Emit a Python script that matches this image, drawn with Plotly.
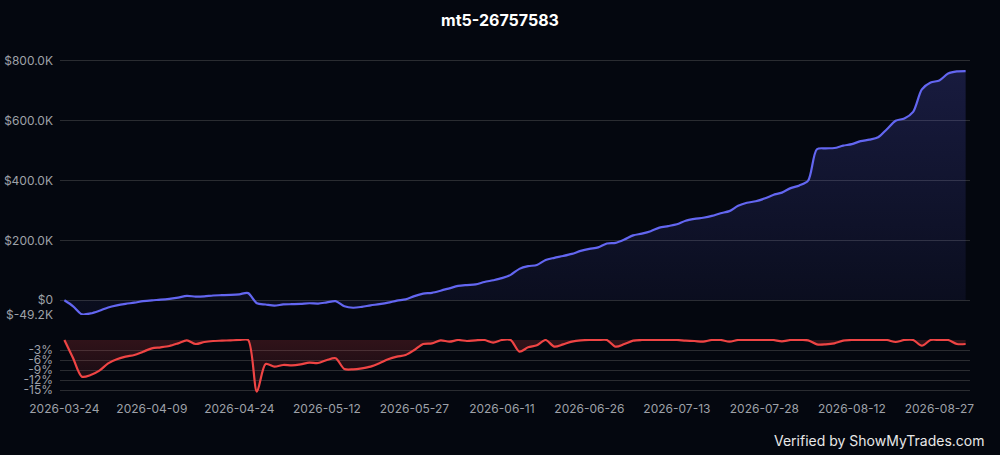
import plotly.graph_objects as go
from plotly.subplots import make_subplots

title_text = "mt5-26757583"
tick_labels = ["2026-03-24", "2026-04-09", "2026-04-24", "2026-05-12", "2026-05-27",
               "2026-06-11", "2026-06-26", "2026-07-13", "2026-07-28", "2026-08-12",
               "2026-08-27"]

# equity curve in thousands of dollars
equity_k = [0, -20, -47, -44, -35, -24, -17, -12, -8, -3,
            0, 2, 5, 9, 15, 12, 13, 16, 17, 18,
            20, 24, -10, -14, -18, -14, -13, -12, -10, -11,
            -7, -3, -20, -25, -22, -17, -13, -8, -1, 3,
            14, 22, 25, 32, 40, 48, 51, 53, 61, 67,
            74, 85, 105, 114, 118, 135, 142, 148, 155, 165,
            172, 177, 190, 192, 203, 217, 223, 231, 243, 248,
            254, 266, 272, 276, 282, 291, 298, 316, 326, 331,
            340, 352, 360, 375, 384, 400, 505, 508, 509, 517,
            522, 532, 537, 545, 572, 600, 608, 630, 705, 728,
            735, 758, 765, 766]

# drawdown in percent
drawdown_pct = [0, -5.5, -11, -10.5, -9.2, -7, -5.8, -5, -4.5, -3.5,
                -2.5, -2.2, -1.8, -1, -0.1, -1.2, -0.6, -0.3, -0.2, -0.1,
                0, 0, -15.5, -7.2, -8, -7.5, -7.6, -7.3, -6.8, -6.9,
                -6, -5.5, -8.7, -8.8, -8.5, -8, -7, -5.8, -5, -4.5,
                -3, -1.2, -1.0, -0.1, -0.5, 0, -0.3, -0.1, 0, -0.8,
                0, 0, -3.5, -2.2, -1.6, 0, -2, -1.3, -0.5, -0.1,
                0, 0, 0, -2, -1.2, -0.2, 0, 0, 0, 0,
                0, -0.2, -0.3, -0.5, 0, 0, -0.5, 0, 0, 0,
                0, 0, -0.4, 0, 0, -0.1, -1.3, -1.3, -1.0, -0.2,
                0, 0, 0, 0, 0, -0.6, 0, 0, -1.7, 0,
                0, 0, -1.2, -1.2]

eq_tickvals = [800, 600, 400, 200, 0, -49.2]
eq_ticktext = ["$800.0K", "$600.0K", "$400.0K", "$200.0K", "$0", "$-49.2K"]
dd_tickvals = [0, -3, -6, -9, -12, -15, -18]
dd_ticktext = ["", "-3%", "-6%", "-9%", "-12%", "-15%", ""]

BG = "#04070f"
BLUE = "#6366f1"
RED = "#ef4444"
GRID = "#2a2c31"
TICK = "#9ea1a8"
FONT = "Inter, Noto Sans, sans-serif"

x = list(range(len(equity_k)))
tickvals = [i * 10 for i in range(len(tick_labels))]

fig = make_subplots(rows=2, cols=1, shared_xaxes=True, vertical_spacing=0.0)

fig.add_trace(go.Scatter(
    x=x, y=equity_k, mode="lines",
    line=dict(color=BLUE, width=2.2, shape="spline", smoothing=0.8),
    fill="tozeroy",
    fillgradient=dict(type="vertical",
                      colorscale=[[0, "rgba(99,102,241,0.06)"], [1, "rgba(99,102,241,0.21)"]]),
    hoverinfo="skip", showlegend=False), row=1, col=1)

fig.add_trace(go.Scatter(
    x=x, y=drawdown_pct, mode="lines",
    line=dict(color=RED, width=2.2, shape="spline", smoothing=0.8),
    fill="tozeroy",
    fillgradient=dict(type="vertical",
                      colorscale=[[0, "rgba(239,68,68,0.06)"], [1, "rgba(239,68,68,0.19)"]]),
    hoverinfo="skip", showlegend=False), row=2, col=1)

H = 345.0
fig.update_layout(
    width=1000, height=455,
    paper_bgcolor=BG, plot_bgcolor=BG,
    margin=dict(l=60, r=30, t=55, b=55, autoexpand=False),
    font=dict(family=FONT, color=TICK, size=12),
    title=dict(text="<b>" + title_text + "</b>", x=0.5, xanchor="center",
               y=1 - 20.5 / 455, yanchor="middle",
               font=dict(family=FONT, size=16, color="#ffffff")),
    showlegend=False,
)

fig.update_xaxes(range=[-0.5, len(x) - 0.5], showgrid=False, zeroline=False,
                 showline=False, fixedrange=True, automargin=False)
fig.update_xaxes(showticklabels=False, row=1, col=1)
fig.update_xaxes(tickmode="array", tickvals=tickvals, ticktext=tick_labels,
                 ticks="", tickfont=dict(size=12, color=TICK), row=2, col=1)

fig.update_yaxes(domain=[(400 - 315) / H, 1.0], range=[-49.2, 820],
                 tickmode="array", tickvals=eq_tickvals, ticktext=eq_ticktext,
                 showgrid=True, gridcolor=GRID, gridwidth=1, zeroline=False,
                 ticks="", ticklabelstandoff=6, automargin=False, fixedrange=True,
                 tickfont=dict(size=12, color=TICK), row=1, col=1)

dd_top = 0.3
px_per = 60.0 / 18.0
fig.update_yaxes(domain=[0, (60 + dd_top * px_per) / H], range=[-18, dd_top],
                 tickmode="array", tickvals=dd_tickvals, ticktext=dd_ticktext,
                 showgrid=True, gridcolor=GRID, gridwidth=1, zeroline=False,
                 ticks="", ticklabelstandoff=6, automargin=False, fixedrange=True,
                 tickfont=dict(size=12, color=TICK), row=2, col=1)

fig.add_annotation(text="Verified by ShowMyTrades.com", xref="paper", yref="paper",
                   x=(987 - 60) / 910.0, y=(400 - 441) / H, xanchor="right", yanchor="middle",
                   showarrow=False, font=dict(family=FONT, size=14, color="#e8e8e8"))

fig.write_html("out.html", config={"displayModeBar": False},
               post_script="document.body.style.margin='0';document.body.style.background='#04070f';")
